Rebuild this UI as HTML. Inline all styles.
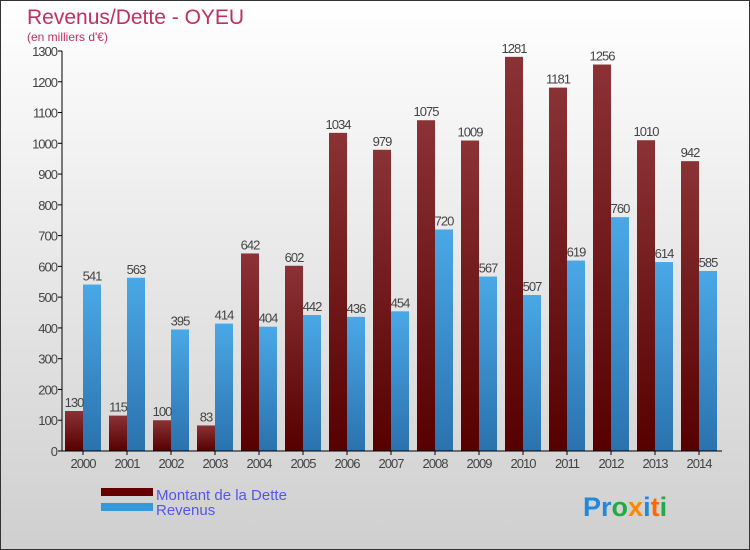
<!DOCTYPE html>
<html><head><meta charset="utf-8"><style>
body{margin:0}
#c{width:748px;height:548px;border:1px solid #333;background:linear-gradient(#fff,#cfcfcf);position:relative;font-family:"Liberation Sans",sans-serif}
</style></head><body>
<div id="c">
<svg id="s" width="748" height="548" style="position:absolute;left:0;top:0">
<defs>
<linearGradient id="gd" x1="0" y1="0" x2="0" y2="1"><stop offset="0" stop-color="#8a3235"/><stop offset="1" stop-color="#560000"/></linearGradient>
<linearGradient id="gr" x1="0" y1="0" x2="0" y2="1"><stop offset="0" stop-color="#4aa8e6"/><stop offset="1" stop-color="#2a72ae"/></linearGradient>
</defs>
<text x="26" y="23" font-size="21" fill="#c0305e">Revenus/Dette - OYEU</text>
<text x="26" y="40" font-size="12" fill="#c0305e">(en milliers d'€)</text>
<g id="g"></g>
<rect x="100" y="487" width="52" height="8" fill="#660000"/>
<rect x="100" y="502" width="52" height="8" fill="#3399dd"/>
<text x="155" y="499" font-size="15" fill="#5555ee">Montant de la Dette</text>
<text x="155" y="514" font-size="15" fill="#5555ee">Revenus</text>
<text x="582" y="515" font-size="27" font-weight="bold"><tspan fill="#2288dd">Pr</tspan><tspan fill="#22aa44">o</tspan><tspan fill="#ff8800">x</tspan><tspan fill="#2288dd">i</tspan><tspan fill="#ff6600">t</tspan><tspan fill="#22aa44">i</tspan></text>
</svg>
</div>
<script>
const years=["2000","2001","2002","2003","2004","2005","2006","2007","2008","2009","2010","2011","2012","2013","2014"];
const dette=[130,115,100,83,642,602,1034,979,1075,1009,1281,1181,1256,1010,942];
const revenus=[541,563,395,414,404,442,436,454,720,567,507,619,760,614,585];
const yTicks=[0,100,200,300,400,500,600,700,800,900,1000,1100,1200,1300];
const NS="http://www.w3.org/2000/svg";
const g=document.getElementById('g');
const X0=61,GW=44,Y0=450,YMAX=1300,YH=400;
const y=v=>Y0-v/YMAX*YH;
const gx=i=>X0+i*GW;
function mk(t,a){const e=document.createElementNS(NS,t);for(const k in a)e.setAttribute(k,a[k]);g.appendChild(e);return e;}
yTicks.forEach(v=>{
 const l=mk('line',{x1:X0-4,x2:X0,y1:y(v),y2:y(v),stroke:'#000'});
 
 
 const t=mk('text',{x:X0-5,y:y(v)+5,'font-size':13,'text-anchor':'end',fill:'#444','letter-spacing':'-1'});
 t.textContent=v;
 
 
});
years.forEach((yr,i)=>{
 const x=gx(i);
 const d=mk('rect',{x:x+3,y:y(dette[i]),width:18,height:Y0-y(dette[i]),fill:'url(#gd)'});
 
 
 const r=mk('rect',{x:x+21,y:y(revenus[i]),width:18,height:Y0-y(revenus[i]),fill:'url(#gr)'});
 
 
 const td=mk('text',{x:x+12,y:y(dette[i])-4,'font-size':13,'text-anchor':'middle',fill:'#444','letter-spacing':'-1'});
 td.textContent=dette[i];
 
 
 const tr=mk('text',{x:x+30,y:y(revenus[i])-4,'font-size':13,'text-anchor':'middle',fill:'#444','letter-spacing':'-1'});
 tr.textContent=revenus[i];
 
 
 const tk=mk('line',{x1:x+21,x2:x+21,y1:Y0,y2:Y0+4,stroke:'#000'});
 
 
 const tl=mk('text',{x:x+21,y:Y0+17,'font-size':13,'text-anchor':'middle',fill:'#444','letter-spacing':'-1'});
 tl.textContent=yr;
 
 
});
const ya=mk('line',{x1:X0,x2:X0,y1:y(YMAX),y2:Y0,stroke:'#000'});


const xa=mk('line',{x1:X0-4,x2:X0+years.length*GW,y1:Y0,y2:Y0,stroke:'#000'});


</script>
</body></html>
